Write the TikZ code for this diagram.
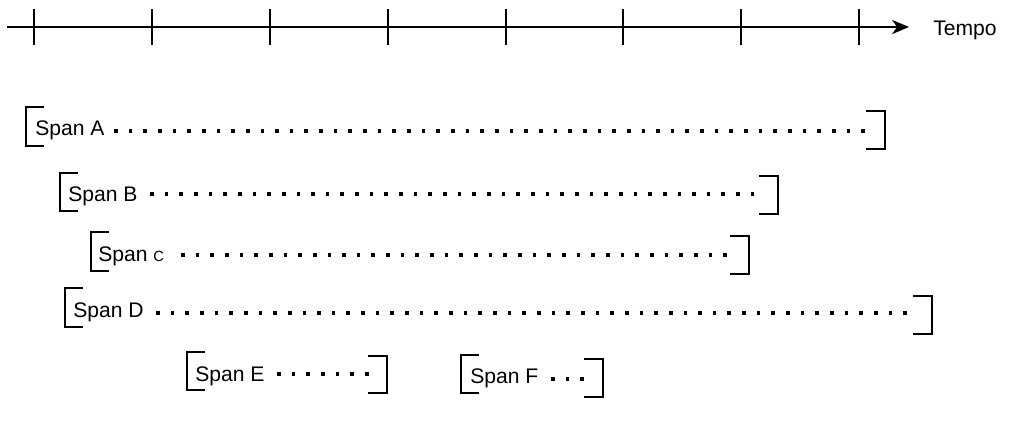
\documentclass[tikz,border=0pt]{standalone}
\usepackage{fontspec}
\setmainfont{Liberation Sans}
\usepackage{tikz}
\usetikzlibrary{arrows.meta}

\tikzset{
	axisline/.style={line width=1.4pt},
	brack/.style={line width=1.4pt},
	dotline/.style={line width=2.7pt, dash pattern=on 2.6pt off 7.82pt},
	spanlabel/.style={anchor=base west, inner sep=0pt, font=\fontsize{15}{17}\selectfont},
}

\begin{document}
\begin{tikzpicture}[x=0.025cm, y=-0.025cm]
		\useasboundingbox (0,0) rectangle (1029,422);

		% time axis
		\coordinate (t0) at (7,27);
		\coordinate (t1) at (909,27);
		\draw[axisline, -{Stealth[length=12pt, width=10pt, inset=3.5pt]}] (t0) -- (t1);
		\node[spanlabel] (tempo) at (933,35) {Tempo};

		\draw[axisline] (34,9) -- (34,45);
		\draw[axisline] (152,9) -- (152,45);
		\draw[axisline] (270,9) -- (270,45);
		\draw[axisline] (388,9) -- (388,45);
		\draw[axisline] (506,9) -- (506,45);
		\draw[axisline] (623,9) -- (623,45);
		\draw[axisline] (741,9) -- (741,45);
		\draw[axisline] (859,9) -- (859,45);

		% Span A
		\draw[brack] (44,107) -- (26,107) -- (26,146) -- (44,146);
		\node[spanlabel] (spanA) at (35,135) {Span A};
		\coordinate (a1) at (114,131);
		\coordinate (a2) at (871,131);
		\draw[dotline] (a1) -- (a2);
		\draw[brack] (866,111) -- (885,111) -- (885,149) -- (866,149);

		% Span B
		\draw[brack] (78,173) -- (60,173) -- (60,211) -- (78,211);
		\node[spanlabel] (spanB) at (68,201) {Span B};
		\coordinate (b1) at (150,194);
		\coordinate (b2) at (764,194);
		\draw[dotline] (b1) -- (b2);
		\draw[brack] (759,176) -- (778,176) -- (778,214) -- (759,214);

		% Span C
		\draw[brack] (109,232) -- (91,232) -- (91,271) -- (109,271);
		\node[spanlabel] (spanC) at (98,261) {Span {\fontsize{10.5}{12}\selectfont C}};
		\coordinate (c1) at (181,255);
		\coordinate (c2) at (735,255);
		\draw[dotline] (c1) -- (c2);
		\draw[brack] (730,236) -- (749,236) -- (749,274) -- (730,274);

		% Span D
		\draw[brack] (83,288) -- (65,288) -- (65,327) -- (83,327);
		\node[spanlabel] (spanD) at (73,317) {Span D};
		\coordinate (d1) at (156,313);
		\coordinate (d2) at (913,313);
		\draw[dotline] (d1) -- (d2);
		\draw[brack] (913,296) -- (932,296) -- (932,334) -- (913,334);

		% Span E
		\draw[brack] (205,352) -- (187,352) -- (187,390) -- (205,390);
		\node[spanlabel] (spanE) at (195,381) {Span E};
		\coordinate (e1) at (277,374);
		\coordinate (e2) at (370,374);
		\draw[dotline] (e1) -- (e2);
		\draw[brack] (368,356) -- (387,356) -- (387,393) -- (368,393);

		% Span F
		\draw[brack] (479,355) -- (461,355) -- (461,393) -- (479,393);
		\node[spanlabel] (spanF) at (470,383) {Span F};
		\coordinate (f1) at (551,379);
		\coordinate (f2) at (585,379);
		\draw[dotline] (f1) -- (f2);
		\draw[brack] (584,359) -- (603,359) -- (603,397) -- (584,397);
	\end{tikzpicture}
\end{document}
